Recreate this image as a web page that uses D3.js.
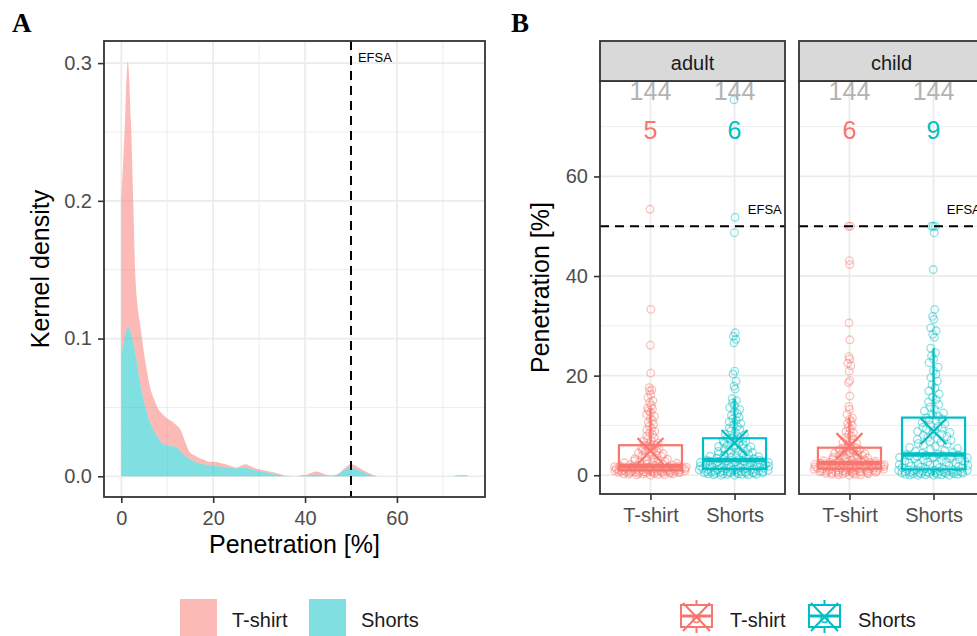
<!DOCTYPE html>
<html><head><meta charset="utf-8">
<script src="https://cdn.jsdelivr.net/npm/d3@7"></script>
<style>
body{margin:0;background:#fff}
svg{display:block}
text{font-family:"Liberation Sans",Arial,Helvetica,sans-serif}
</style>
</head><body>
<svg id="c" width="977" height="636"></svg>
<script>
// ---------------- DATA ----------------
const groups = ["T-shirt", "Shorts"];
const facets = ["adult", "child"];
const groupColors = ["#F8766D", "#00BFC4"];

// Panel A: kernel density curves, stacked
const densityX = [0,0.7,1.4,2.1,2.6,3,3.5,4,4.5,5,5.6,6.3,7,8,9,10,11,12,13,14,15,16,17,18,19,20,22,24,25,26,27,28,29,31,33,34,36,38,39,40,41,42.5,44,45,46,47,48,49,50,51,52,53,54,55,56,58,60,65,70,72,73,74,75,75.4];
const densityShorts = [0.0876,0.100,0.108,0.104,0.097,0.090,0.080,0.070,0.061,0.054,0.046,0.039,0.034,0.028,0.024,0.0225,0.022,0.021,0.018,0.0145,0.0125,0.0105,0.0095,0.0088,0.0082,0.008,0.0068,0.006,0.0057,0.006,0.0063,0.0055,0.0045,0.0032,0.0018,0.0012,0.0002,0,0.0005,0.0007,0.0008,0.0012,0.0006,0.0004,0.0006,0.001,0.0035,0.0056,0.0063,0.0052,0.0042,0.0025,0.0012,0.0004,0,0,0,0,0,0,0.0006,0.0008,0.0007,0.0005];
const densityTshirt = [0.113,0.150,0.193,0.153,0.102,0.060,0.045,0.042,0.039,0.034,0.030,0.025,0.023,0.021,0.021,0.0195,0.018,0.016,0.015,0.0095,0.0045,0.0045,0.0035,0.0032,0.0023,0.0025,0.0024,0.0012,0.0006,0.0015,0.0024,0.002,0.0015,0.0012,0.0012,0.001,0.0001,0,0,0.0001,0.0012,0.0022,0.0012,0.0006,0.0002,0.0005,0.0005,0.0014,0.0025,0.0026,0.0014,0.0013,0.001,0.0004,0,0,0,0,0,0,0,0,0,0];
const densityXTicks = [0, 20, 40, 60];
const densityXMinor = [10, 30, 50, 70];
const densityYTicks = [0, 0.1, 0.2, 0.3];
const densityYMinor = [0.05, 0.15, 0.25];

// Panel B: penetration values per facet and garment (n = 144 each)
const adultTshirt = [0.0,0.1,0.1,0.2,0.2,0.3,0.3,0.3,0.4,0.4,0.4,0.5,0.5,0.5,0.5,0.6,0.6,0.6,0.6,0.7,0.7,0.7,0.7,0.8,0.8,0.8,0.8,0.8,0.9,0.9,0.9,0.9,0.9,1.0,1.0,1.0,
1.0,1.1,1.1,1.1,1.2,1.2,1.2,1.2,1.3,1.3,1.3,1.3,1.4,1.4,1.4,1.4,1.4,1.5,1.5,1.5,1.5,1.5,1.6,1.6,1.6,1.6,1.6,1.7,1.7,1.7,1.7,1.7,1.8,1.8,1.8,1.8,
1.9,1.9,2.0,2.1,2.2,2.3,2.4,2.5,2.6,2.7,2.8,2.9,3.0,3.1,3.2,3.3,3.5,3.6,3.8,3.9,4.0,4.2,4.3,4.5,4.6,4.8,4.9,5.0,5.2,5.3,5.4,5.5,5.6,5.8,5.9,6.0,
6.1,6.3,6.5,6.8,7.0,7.3,7.6,7.9,8.2,8.5,8.8,9.1,9.4,9.8,10.2,10.6,11.0,11.4,11.8,12.2,12.6,13.0,13.3,13.5,
14.0,14.6,15.0,15.6,16.2,16.9,17.2,17.6,20.5,26.1,33.3,53.4];
const adultShorts = [0.0,0.0,0.1,0.1,0.2,0.2,0.2,0.3,0.3,0.3,0.4,0.4,0.4,0.5,0.5,0.5,0.6,0.6,0.6,0.7,0.7,0.7,0.8,0.8,0.8,0.9,0.9,0.9,1.0,1.0,1.0,1.1,1.1,1.1,1.2,1.2,
1.3,1.3,1.4,1.4,1.5,1.5,1.6,1.6,1.7,1.7,1.8,1.8,1.9,1.9,2.0,2.0,2.1,2.1,2.2,2.2,2.3,2.3,2.4,2.4,2.5,2.5,2.6,2.6,2.7,2.7,2.8,2.8,2.9,2.9,3.0,3.0,
3.1,3.2,3.3,3.4,3.5,3.6,3.7,3.8,3.9,4.0,4.1,4.2,4.4,4.5,4.6,4.8,4.9,5.0,5.2,5.3,5.4,5.6,5.7,5.8,6.0,6.1,6.2,6.4,6.5,6.6,6.8,6.9,7.0,7.2,7.3,7.4,
7.5,7.9,8.1,8.3,8.6,8.9,9.2,9.5,9.8,10.1,10.4,10.7,11.0,11.3,11.6,12.0,12.4,12.8,13.2,13.6,14.0,14.5,15.0,15.4,
17.3,17.9,18.9,20.3,20.9,26.6,27.3,27.9,28.6,48.7,51.8,75.4];
const childTshirt = [0.0,0.1,0.1,0.2,0.2,0.3,0.3,0.4,0.4,0.5,0.5,0.5,0.6,0.6,0.6,0.7,0.7,0.7,0.8,0.8,0.8,0.9,0.9,0.9,1.0,1.0,1.0,1.1,1.1,1.1,1.2,1.2,1.2,1.2,1.3,1.3,
1.3,1.4,1.4,1.4,1.5,1.5,1.5,1.6,1.6,1.6,1.7,1.7,1.7,1.8,1.8,1.8,1.9,1.9,1.9,2.0,2.0,2.0,2.0,2.1,2.1,2.1,2.1,2.2,2.2,2.2,2.3,2.3,2.3,2.4,2.4,2.4,
2.5,2.5,2.6,2.6,2.7,2.7,2.8,2.9,3.0,3.0,3.1,3.2,3.3,3.4,3.5,3.6,3.7,3.8,3.9,4.0,4.1,4.2,4.3,4.4,4.5,4.6,4.7,4.8,4.9,5.0,5.1,5.2,5.3,5.4,5.5,5.5,
5.6,6.0,6.4,6.6,6.8,7.0,7.3,7.6,7.9,8.2,8.5,8.8,9.2,9.6,10.0,10.4,10.8,11.2,11.5,
12.2,13.2,13.8,15.9,18.6,19.0,20.9,22.0,22.5,23.3,23.8,27.2,30.6,42.3,43.1,50.0,50.0];
const childShorts = [0.0,0.0,0.0,0.1,0.1,0.1,0.2,0.2,0.2,0.3,0.3,0.3,0.4,0.4,0.4,0.5,0.5,0.5,0.6,0.6,0.6,0.7,0.7,0.7,0.8,0.8,0.8,0.9,0.9,0.9,1.0,1.0,1.0,1.1,1.1,1.1,
1.2,1.3,1.4,1.5,1.5,1.6,1.7,1.8,1.9,2.0,2.0,2.1,2.2,2.3,2.4,2.5,2.6,2.7,2.8,2.9,3.0,3.1,3.2,3.3,3.4,3.5,3.5,3.6,3.7,3.8,3.8,3.9,4.0,4.0,4.1,4.1,
4.2,4.4,4.6,4.8,5.0,5.2,5.4,5.6,5.8,6.0,6.2,6.4,6.6,6.8,7.0,7.2,7.4,7.6,7.8,8.0,8.2,8.4,8.6,8.8,9.0,9.2,9.4,9.6,9.8,10.0,10.3,10.6,10.9,11.1,11.3,11.5,
11.8,12.1,12.5,12.9,13.3,13.7,14.2,14.7,15.2,15.7,16.3,16.9,17.5,18.2,18.9,19.6,20.3,21.0,21.7,22.6,23.3,24.0,24.6,25.5,
27.7,28.3,29.0,29.6,31.3,31.9,33.3,41.3,48.7,50.0,50.0,50.0];
const exceedCounts = [[5, 6], [6, 9]];   // [facet][group]
const penTicks = [0, 20, 40, 60];
const penMinor = [10, 30, 50, 70];
const efsaLimit = 50;
const efsaLabel = "EFSA";
const countLabelY = 67.5;

// ---------------- HELPERS ----------------
const svg = d3.select("#c");
const GRID = "#EBEBEB", BORDER = "#333333", TICKTXT = "#4D4D4D";
const fmt1 = d3.format(".1f");

function styleAxis(g) {
  g.select(".domain").remove();
  g.selectAll(".tick line").attr("stroke", BORDER).attr("stroke-width", 1.6);
  g.selectAll(".tick text").attr("fill", TICKTXT).style("font-size", "20px")
    .style("font-family", '"Liberation Sans",Arial,sans-serif');
}
function nrd0(v) {
  const s = v.slice().sort(d3.ascending);
  const sd = d3.deviation(s);
  const iqr = (d3.quantile(s, 0.75) - d3.quantile(s, 0.25)) / 1.34;
  return 0.9 * Math.min(sd, iqr) * Math.pow(s.length, -0.2);
}
function vdc(n) { let v = 0, den = 1; while (n > 0) { den *= 2; v += (n % 2) / den; n = Math.floor(n / 2); } return v; }
function quasiOffsets(values, width) {
  const bw = nrd0(values), n = values.length;
  const f = y => d3.sum(values, v => Math.exp(-0.5 * ((y - v) / bw) ** 2)) / (n * bw * Math.sqrt(2 * Math.PI));
  const lo = d3.min(values), hi = d3.max(values);
  const maxD = d3.max(d3.range(512), i => f(lo + i * (hi - lo) / 511));
  const idx = d3.range(n).sort((a, b) => values[a] - values[b] || a - b);
  const rank = new Array(n); idx.forEach((id, r) => rank[id] = r + 1);
  return values.map((v, i) => (vdc(rank[i]) - 0.5) * 2 * width * f(v) / maxD);
}
function boxStats(values) {
  const s = values.slice().sort(d3.ascending);
  const q1 = d3.quantile(s, 0.25), med = d3.quantile(s, 0.5), q3 = d3.quantile(s, 0.75);
  const iqr = q3 - q1;
  const hiW = d3.max(s.filter(v => v <= q3 + 1.5 * iqr));
  const loW = d3.min(s.filter(v => v >= q1 - 1.5 * iqr));
  return {q1, med, q3, hiW, loW, mean: d3.mean(s), n: s.length, max: s[s.length - 1]};
}

// ---------------- PANEL LABELS ----------------
svg.append("text").attr("x", 12).attr("y", 32).text("A")
  .style("font-family", '"Liberation Serif","Times New Roman",serif').style("font-weight", "bold").style("font-size", "27px");
svg.append("text").attr("x", 511).attr("y", 32).text("B")
  .style("font-family", '"Liberation Serif","Times New Roman",serif').style("font-weight", "bold").style("font-size", "27px");

// ---------------- PANEL A ----------------
const A = {l: 104, r: 485, t: 41, b: 497};
const xMaxA = d3.max(densityX);
const stackRows = densityX.map((x, i) => ({x, "Shorts": densityShorts[i], "T-shirt": densityTshirt[i]}));
const stacked = d3.stack().keys(["Shorts", "T-shirt"])(stackRows);
const yMaxA = d3.max(stacked[1], d => d[1]);
const xA = d3.scaleLinear().domain([-0.05 * xMaxA, 1.05 * xMaxA]).range([A.l, A.r]);
const yA = d3.scaleLinear().domain([-0.05 * yMaxA, 1.05 * yMaxA]).range([A.b, A.t]);

const gA = svg.append("g");
gA.append("rect").attr("x", A.l).attr("y", A.t).attr("width", A.r - A.l).attr("height", A.b - A.t).attr("fill", "#fff");
gA.selectAll(".ymin").data(densityYMinor).join("line").attr("x1", A.l).attr("x2", A.r)
  .attr("y1", d => yA(d)).attr("y2", d => yA(d)).attr("stroke", GRID).attr("stroke-width", 0.9);
gA.selectAll(".xmin").data(densityXMinor).join("line").attr("y1", A.t).attr("y2", A.b)
  .attr("x1", d => xA(d)).attr("x2", d => xA(d)).attr("stroke", GRID).attr("stroke-width", 0.9);
gA.selectAll(".ymaj").data(densityYTicks).join("line").attr("x1", A.l).attr("x2", A.r)
  .attr("y1", d => yA(d)).attr("y2", d => yA(d)).attr("stroke", GRID).attr("stroke-width", 1.7);
gA.selectAll(".xmaj").data(densityXTicks).join("line").attr("y1", A.t).attr("y2", A.b)
  .attr("x1", d => xA(d)).attr("x2", d => xA(d)).attr("stroke", GRID).attr("stroke-width", 1.7);

const areaA = d3.area().x(d => xA(d.data.x)).y0(d => yA(d[0])).y1(d => yA(d[1])).curve(d3.curveMonotoneX);
const stackColor = {"Shorts": groupColors[1], "T-shirt": groupColors[0]};
gA.selectAll(".dens").data(stacked).join("path")
  .attr("d", areaA).attr("fill", d => stackColor[d.key]).attr("fill-opacity", 0.5);

gA.append("line").attr("x1", xA(efsaLimit)).attr("x2", xA(efsaLimit)).attr("y1", A.t).attr("y2", A.b)
  .attr("stroke", "#000").attr("stroke-width", 2).attr("stroke-dasharray", "9,6");
gA.append("text").attr("x", xA(51.5)).attr("y", yA(0.301)).text(efsaLabel)
  .style("font-size", "13px").attr("fill", "#000");

gA.append("rect").attr("x", A.l).attr("y", A.t).attr("width", A.r - A.l).attr("height", A.b - A.t)
  .attr("fill", "none").attr("stroke", BORDER).attr("stroke-width", 1.8);

gA.append("g").attr("transform", `translate(${A.l},0)`)
  .call(d3.axisLeft(yA).tickValues(densityYTicks).tickFormat(fmt1).tickSize(6).tickPadding(6)).call(styleAxis);
gA.append("g").attr("transform", `translate(0,${A.b})`)
  .call(d3.axisBottom(xA).tickValues(densityXTicks).tickFormat(d3.format("d")).tickSize(6).tickPadding(8)).call(styleAxis);

gA.append("text").attr("x", (A.l + A.r) / 2).attr("y", 553).attr("text-anchor", "middle")
  .style("font-size", "25px").text("Penetration [%]");
gA.append("text").attr("transform", `translate(49,${(A.t + A.b) / 2}) rotate(-90)`).attr("text-anchor", "middle")
  .style("font-size", "25px").text("Kernel density");

// Legend A
const legA = [{x: 180, tx: 232}, {x: 309, tx: 361}];
groups.forEach((g, i) => {
  svg.append("rect").attr("x", legA[i].x).attr("y", 599).attr("width", 37).attr("height", 40)
    .attr("fill", groupColors[i]).attr("fill-opacity", 0.5);
  svg.append("text").attr("x", legA[i].tx).attr("y", 627).style("font-size", "20px").attr("fill", "#1A1A1A").text(g);
});

// ---------------- PANEL B ----------------
const B = {t: 41, stripB: 81, b: 494, w: 185};
const facetLeft = [600, 799];
const pointsData = [[adultTshirt, adultShorts], [childTshirt, childShorts]];
const allVals = pointsData.flat(2);
const yMaxB = d3.max(allVals);
const yB = d3.scaleLinear().domain([-0.05 * yMaxB, 1.05 * yMaxB]).range([B.b, B.stripB]);

facets.forEach((fac, fi) => {
  const pl = facetLeft[fi];
  const xB = d3.scaleLinear().domain([0.4, 2.6]).range([pl, pl + B.w]);
  const g = svg.append("g");
  g.append("rect").attr("x", pl).attr("y", B.stripB).attr("width", B.w).attr("height", B.b - B.stripB).attr("fill", "#fff");
  g.selectAll(".ymin").data(penMinor).join("line").attr("x1", pl).attr("x2", pl + B.w)
    .attr("y1", d => yB(d)).attr("y2", d => yB(d)).attr("stroke", GRID).attr("stroke-width", 0.9);
  g.selectAll(".ymaj").data(penTicks).join("line").attr("x1", pl).attr("x2", pl + B.w)
    .attr("y1", d => yB(d)).attr("y2", d => yB(d)).attr("stroke", GRID).attr("stroke-width", 1.7);
  g.selectAll(".xmaj").data([1, 2]).join("line").attr("y1", B.stripB).attr("y2", B.b)
    .attr("x1", d => xB(d)).attr("x2", d => xB(d)).attr("stroke", GRID).attr("stroke-width", 1.7);

  groups.forEach((grp, gi) => {
    const vals = pointsData[fi][gi];
    const col = groupColors[gi];
    const st = boxStats(vals);
    const cx = gi + 1;
    const offs = quasiOffsets(vals, 0.45);
    // points
    g.append("g").selectAll("circle").data(vals).join("circle")
      .attr("cx", (d, i) => xB(cx + offs[i])).attr("cy", d => yB(d)).attr("r", 3.8)
      .attr("fill", "none").attr("stroke", col).attr("stroke-opacity", 0.45).attr("stroke-width", 1.3);
    // box
    const bw = 0.375;
    g.append("line").attr("x1", xB(cx)).attr("x2", xB(cx)).attr("y1", yB(st.q3)).attr("y2", yB(st.hiW))
      .attr("stroke", col).attr("stroke-width", 2.2);
    g.append("line").attr("x1", xB(cx)).attr("x2", xB(cx)).attr("y1", yB(st.q1)).attr("y2", yB(st.loW))
      .attr("stroke", col).attr("stroke-width", 2.2);
    g.append("rect").attr("x", xB(cx - bw)).attr("width", xB(cx + bw) - xB(cx - bw))
      .attr("y", yB(st.q3)).attr("height", yB(st.q1) - yB(st.q3))
      .attr("fill", "none").attr("stroke", col).attr("stroke-width", 2.2);
    g.append("line").attr("x1", xB(cx - bw)).attr("x2", xB(cx + bw)).attr("y1", yB(st.med)).attr("y2", yB(st.med))
      .attr("stroke", col).attr("stroke-width", 4.4);
    // mean X
    const mx = xB(cx), my = yB(st.mean), s = 13;
    g.append("path").attr("d", `M${mx - s},${my - s}L${mx + s},${my + s}M${mx - s},${my + s}L${mx + s},${my - s}`)
      .attr("stroke", col).attr("stroke-width", 2.2).attr("fill", "none");
    // labels
    g.append("text").attr("x", xB(cx)).attr("y", yB(yMaxB)).attr("text-anchor", "middle")
      .style("font-size", "25px").attr("fill", "#B3B3B3").text(st.n);
    g.append("text").attr("x", xB(cx)).attr("y", yB(countLabelY)).attr("text-anchor", "middle")
      .style("font-size", "25px").attr("fill", col).text(exceedCounts[fi][gi]);
  });

  // EFSA line
  g.append("line").attr("x1", pl).attr("x2", pl + B.w).attr("y1", yB(efsaLimit)).attr("y2", yB(efsaLimit))
    .attr("stroke", "#000").attr("stroke-width", 2).attr("stroke-dasharray", "9,6");
  g.append("text").attr("x", xB(2.36)).attr("y", yB(52.4)).attr("text-anchor", "middle")
    .style("font-size", "13px").attr("fill", "#000").text(efsaLabel);

  // border + strip
  g.append("rect").attr("x", pl).attr("y", B.stripB).attr("width", B.w).attr("height", B.b - B.stripB)
    .attr("fill", "none").attr("stroke", BORDER).attr("stroke-width", 1.8);
  g.append("rect").attr("x", pl).attr("y", B.t).attr("width", B.w).attr("height", B.stripB - B.t)
    .attr("fill", "#D9D9D9").attr("stroke", BORDER).attr("stroke-width", 1.8);
  g.append("text").attr("x", pl + B.w / 2).attr("y", 69.5).attr("text-anchor", "middle")
    .style("font-size", "20px").attr("fill", "#1A1A1A").text(fac);

  // x axis
  g.append("g").attr("transform", `translate(0,${B.b})`)
    .call(d3.axisBottom(xB).tickValues([1, 2]).tickFormat(d => groups[d - 1]).tickSize(6).tickPadding(8)).call(styleAxis);
  if (fi === 0) {
    g.append("g").attr("transform", `translate(${pl},0)`)
      .call(d3.axisLeft(yB).tickValues(penTicks).tickFormat(d3.format("d")).tickSize(6).tickPadding(6)).call(styleAxis);
  }
});
svg.append("text").attr("transform", `translate(549,${(B.stripB + B.b) / 2}) rotate(-90)`).attr("text-anchor", "middle")
  .style("font-size", "25px").text("Penetration [%]");

// Legend B
const legB = [{x: 681, tx: 730}, {x: 809, tx: 858}];
groups.forEach((grp, i) => {
  const x0 = legB[i].x, y0 = 600, w = 31, h = 33, col = groupColors[i];
  const cx = x0 + w / 2, g = svg.append("g").attr("stroke", col).attr("fill", "none").attr("stroke-width", 2);
  g.append("line").attr("x1", cx).attr("x2", cx).attr("y1", y0).attr("y2", y0 + 5);
  g.append("line").attr("x1", cx).attr("x2", cx).attr("y1", y0 + 27).attr("y2", y0 + h);
  g.append("rect").attr("x", x0).attr("y", y0 + 5).attr("width", w).attr("height", 22);
  g.append("line").attr("x1", x0).attr("x2", x0 + w).attr("y1", y0 + 16).attr("y2", y0 + 16).attr("stroke-width", 3);
  g.append("path").attr("d", `M${x0 + 2},${y0 + 3}L${x0 + w - 2},${y0 + h - 2}M${x0 + 2},${y0 + h - 2}L${x0 + w - 2},${y0 + 3}`);
  g.append("circle").attr("cx", cx).attr("cy", y0 + 19).attr("r", 3.5).attr("stroke-width", 1.5);
  svg.append("text").attr("x", legB[i].tx).attr("y", 627).style("font-size", "20px").attr("fill", "#1A1A1A").text(grp);
});
</script>
</body></html>
